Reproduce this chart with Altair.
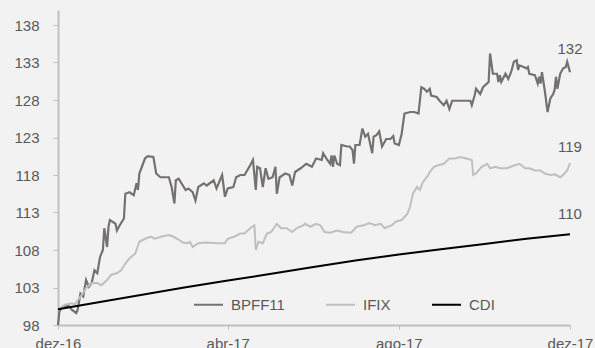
import altair as alt
import pandas as pd

# x values are days counted from 1 Dec 2016
tick_days = [0, 121, 243, 365]
tick_labels = ["dez-16", "abr-17", "ago-17", "dez-17"]
y_ticks = [98, 103, 108, 113, 118, 123, 128, 133, 138]

bpff_days = [0, 1, 3, 7, 10, 13, 14, 16, 18, 20, 22, 24, 26, 28, 30, 32, 33, 35, 36, 37,
             41, 42, 44, 47, 48, 51, 54, 56, 57, 58, 62, 64, 68, 70, 73, 79, 81, 83, 84, 86,
             91, 93, 96, 98, 100, 104, 106, 111, 113, 117, 119, 121, 125, 127, 130, 133, 137, 139, 141, 142,
             144, 146, 148, 150, 153, 155, 156, 158, 162, 165, 167, 169, 173, 177, 181, 184, 188, 189, 192, 194,
             195, 196, 197, 199, 201, 202, 206, 208, 210, 211, 212, 215, 217, 219, 221, 224, 225, 227, 229, 231,
             234, 237, 239, 240, 243, 245, 247, 251, 254, 257, 259, 261, 263, 265, 266, 270, 272, 275, 277, 279,
             281, 294, 295, 297, 298, 301, 303, 307, 308, 310, 313, 314, 315, 316, 319, 321, 323, 325, 327, 328,
             329, 332, 334, 335, 336, 340, 342, 343, 344, 345, 347, 349, 351, 353, 354, 355, 356, 358, 360, 362,
             363, 365]
bpff_vals = [98.0, 99.8, 100.4, 100.7, 100.0, 99.6, 100.0, 102.2, 101.8, 104.0, 103.1, 103.6, 105.3, 104.9, 107.1, 108.0, 110.9, 108.4, 111.1, 112.0,
             111.5, 110.6, 111.3, 112.2, 115.5, 115.7, 115.3, 116.9, 116.0, 118.2, 120.2, 120.5, 120.4, 118.2, 117.7, 117.7, 116.4, 114.2, 117.3, 117.5,
             116.0, 116.2, 115.7, 114.6, 116.4, 116.9, 116.6, 117.3, 116.2, 118.0, 115.1, 116.2, 116.4, 117.7, 118.0, 118.0, 119.3, 120.0, 116.0, 119.1,
             118.9, 116.4, 118.9, 117.5, 117.7, 119.1, 115.5, 117.7, 118.2, 118.0, 116.6, 118.4, 118.9, 119.5, 119.1, 120.2, 120.0, 120.9, 120.0, 119.5,
             120.6, 119.1, 120.6, 119.5, 119.3, 122.0, 121.8, 121.8, 121.3, 119.5, 122.0, 122.0, 124.2, 123.1, 123.5, 120.9, 123.1, 123.3, 123.8, 121.8,
             122.8, 122.8, 123.2, 122.2, 122.0, 123.5, 126.2, 126.4, 126.4, 126.2, 129.7, 129.5, 129.1, 129.5, 128.6, 128.4, 127.9, 127.3, 127.9, 126.8,
             127.9, 127.9, 127.3, 128.6, 129.5, 128.8, 129.7, 130.4, 134.2, 131.5, 131.5, 130.4, 131.3, 130.4, 131.5, 130.8, 131.7, 133.1, 133.3, 132.0,
             132.6, 132.4, 132.2, 132.4, 131.5, 131.3, 130.2, 131.1, 130.2, 131.7, 129.3, 126.4, 128.2, 128.8, 129.3, 131.1, 129.5, 131.5, 132.2, 132.4,
             133.1, 131.7]

ifix_days = [0, 5, 10, 12, 14, 17, 20, 24, 28, 31, 35, 38, 42, 45, 48, 51, 55, 58, 62, 66,
             69, 74, 79, 82, 86, 89, 92, 94, 96, 100, 106, 113, 119, 121, 126, 130, 133, 137, 140, 141,
             143, 146, 149, 152, 156, 159, 163, 167, 170, 175, 176, 180, 184, 187, 190, 194, 199, 203, 209, 213,
             218, 222, 226, 230, 233, 238, 241, 245, 249, 251, 253, 256, 258, 260, 264, 265, 268, 271, 275, 279,
             283, 287, 291, 295, 296, 298, 302, 306, 308, 312, 315, 320, 324, 329, 333, 336, 340, 344, 347, 351,
             354, 358, 360, 363, 365]
ifix_vals = [100.0, 100.7, 100.9, 100.7, 101.3, 102.0, 102.9, 103.6, 103.6, 103.3, 104.0, 104.7, 104.9, 105.3, 106.2, 106.9, 107.5, 109.1, 109.5, 109.8,
             109.5, 109.8, 110.0, 109.8, 109.4, 109.0, 108.9, 109.1, 108.4, 108.9, 109.0, 108.9, 108.9, 109.5, 109.8, 110.2, 110.2, 110.9, 111.3, 108.0,
             109.1, 108.9, 110.2, 110.4, 111.5, 110.9, 110.9, 110.4, 110.9, 111.3, 111.5, 111.1, 111.5, 111.3, 110.4, 110.3, 110.6, 110.4, 110.3, 111.1,
             111.3, 111.6, 111.3, 111.5, 110.9, 111.3, 111.8, 112.0, 112.8, 113.8, 115.5, 116.4, 116.0, 117.0, 118.0, 118.4, 119.1, 119.3, 119.5, 120.2,
             120.2, 120.4, 120.2, 120.0, 118.0, 118.2, 119.1, 119.5, 118.9, 119.1, 118.9, 118.9, 119.2, 119.5, 118.9, 118.9, 118.6, 118.6, 118.2, 118.0,
             118.1, 117.7, 118.0, 118.6, 119.6]

cdi_days = [0, 31, 59, 90, 120, 151, 181, 212, 243, 273, 304, 334, 365]
cdi_vals = [100.1, 101.1, 102.0, 103.0, 103.9, 104.8, 105.7, 106.6, 107.4, 108.1, 108.8, 109.5, 110.1]

series = ["BPFF11", "IFIX", "CDI"]
colors = ["#767171", "#bfbfbf", "#000000"]
widths = [2.2, 2.0, 2.0]
end_labels = ["132", "119", "110"]
end_values = [132, 119, 110]

frames = []
for name, d, v in [("BPFF11", bpff_days, bpff_vals), ("IFIX", ifix_days, ifix_vals), ("CDI", cdi_days, cdi_vals)]:
    frames.append(pd.DataFrame({"day": d, "value": v, "series": name}))
df = pd.concat(frames, ignore_index=True)

lab_df = pd.DataFrame({"day": [tick_days[-1]] * 3, "value": end_values, "text": end_labels})

label_expr = " : ".join(f"datum.value == {d} ? '{t}'" for d, t in zip(tick_days, tick_labels)) + " : ''"

TXT = "#595959"
AX = "#bfbfbf"

x_enc = alt.X("day:Q", scale=alt.Scale(domain=[0, 365], nice=False, zero=False),
              axis=alt.Axis(values=tick_days, labelExpr=label_expr, title=None, grid=False,
                            domainColor=AX, domainWidth=2, tickColor=AX, tickSize=4,
                            labelFontSize=15, labelColor=TXT, labelPadding=7, labelFlush=False,
                            labelOverlap=False))
y_enc = alt.Y("value:Q", scale=alt.Scale(domain=[98, 140], nice=False, zero=False),
              axis=alt.Axis(values=y_ticks, title=None, grid=False, domainColor=AX, domainWidth=2,
                            tickColor=AX, tickSize=5, labelFontSize=15, labelColor=TXT, labelPadding=14,
                            labelOverlap=False, format="d"))
color_enc = alt.Color("series:N", sort=series,
                      scale=alt.Scale(domain=series, range=colors),
                      legend=alt.Legend(title=None, orient="none", direction="horizontal",
                                        legendX=135, legendY=279, symbolType="stroke",
                                        symbolSize=841, symbolStrokeWidth=2, labelFontSize=15,
                                        labelColor=TXT, columnPadding=37, labelOffset=7, padding=0))

base = alt.Chart(df)
layers = []
for s, w in zip(series, widths):
    layers.append(base.transform_filter(alt.datum.series == s)
                  .mark_line(strokeWidth=w)
                  .encode(x=x_enc, y=y_enc, color=color_enc))

labels = alt.Chart(lab_df).mark_text(dy=-21, fontSize=15, color=TXT).encode(
    x=x_enc, y=y_enc, text="text:N")

chart = alt.layer(*layers, labels).properties(
    width=512, height=315,
    padding={"left": 58, "top": 10, "right": 25, "bottom": 23},
    autosize="none",
    background="#f2f2f2",
).configure(font="Liberation Sans").configure_view(stroke=None)

chart.save("out.html", embed_options={"renderer": "svg", "actions": False})
